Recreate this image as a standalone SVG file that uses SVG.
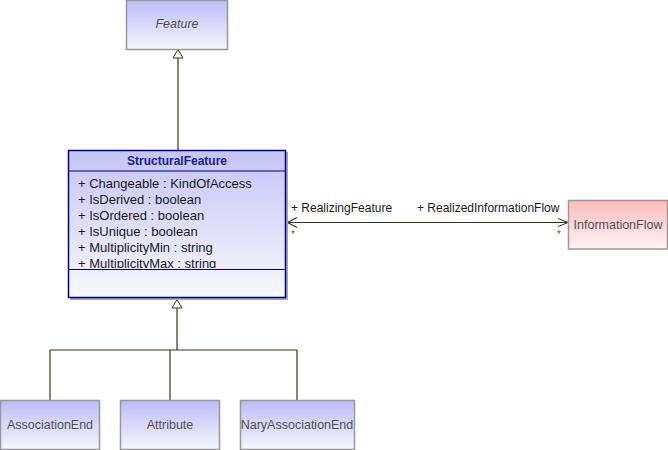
<svg xmlns="http://www.w3.org/2000/svg" width="668" height="450" viewBox="0 0 668 450">
<defs>
<linearGradient id="gBlue" x1="0" y1="0" x2="0" y2="1"><stop offset="0" stop-color="#bcbcf8"/><stop offset="1" stop-color="#f6f6ff"/></linearGradient>
<linearGradient id="gSF" x1="0" y1="0" x2="0" y2="1"><stop offset="0" stop-color="#c4c4f6"/><stop offset="1" stop-color="#f8f8ff"/></linearGradient>
<linearGradient id="gPink" x1="0" y1="0" x2="0" y2="1"><stop offset="0" stop-color="#ffbcbc"/><stop offset="1" stop-color="#fff2f2"/></linearGradient>
<marker id="open" viewBox="0 0 10 10" refX="10" refY="5" markerWidth="10" markerHeight="10" markerUnits="userSpaceOnUse" orient="auto"><path d="M0,1 L10,5 L0,9" fill="none" stroke="#3c3020" stroke-width="1"/></marker>
<clipPath id="attrClip"><rect x="69" y="172" width="216" height="96"/></clipPath>
</defs>
<style>
.box{stroke:#999;stroke-width:1.5}
.lbl{font-family:"Liberation Sans",Arial,sans-serif;font-size:12.5px;fill:#505050;text-anchor:middle}
.attr{font-family:"Liberation Sans",Arial,sans-serif;font-size:13px;fill:#1a1a1a}
.role{font-family:"Liberation Sans",Arial,sans-serif;font-size:12px;fill:#1a1a1a}
.mult{font-family:"Liberation Sans",Arial,sans-serif;font-size:10px;fill:#a05010}
.ln{stroke:#3c3020;stroke-width:1.2;fill:none}
.tri{stroke:#3c3020;stroke-width:1;fill:#fff}
</style>
<g id="connectors">
<path class="ln" d="M178,58 V150"/>
<path class="tri" d="M178,49.5 L173,58 L183,58 Z"/>
<path class="ln" d="M177,308 V350 M50,350 H297 M50,350 V400 M170,350 V400 M297,350 V400"/>
<path class="tri" d="M177,299.5 L172,308 L182,308 Z"/>
<path class="ln" d="M287,222.5 H568" marker-end="url(#open)"/>
<path class="ln" d="M297,217.5 L287.5,222.5 L297,227.5"/>
<text class="role" x="291" y="212">+ RealizingFeature</text>
<text class="role" x="417" y="212">+ RealizedInformationFlow</text>
<text class="mult" x="291" y="238">*</text>
<text class="mult" x="557" y="238">*</text>
</g>
<g id="Feature">
<rect class="box" x="126.5" y="0.5" width="101" height="49" fill="url(#gBlue)"/>
<text class="lbl" x="177" y="28" font-style="italic">Feature</text>
</g>
<g id="StructuralFeature">
<rect x="70" y="152" width="218" height="148" fill="#a8a8b8"/>
<rect x="68.5" y="150.5" width="217" height="147" fill="url(#gSF)" stroke="#000080" stroke-width="1.5"/>
<path d="M68.5,171 H285.5 M68.5,269.5 H285.5" stroke="#000080" stroke-width="1.2"/>
<text x="177" y="165" font-family="'Liberation Sans',Arial,sans-serif" font-size="12px" font-weight="bold" fill="#20208a" text-anchor="middle">StructuralFeature</text>
<g clip-path="url(#attrClip)">
<text class="attr" x="78" y="188">+ Changeable : KindOfAccess</text>
<text class="attr" x="78" y="204">+ IsDerived : boolean</text>
<text class="attr" x="78" y="220">+ IsOrdered : boolean</text>
<text class="attr" x="78" y="236">+ IsUnique : boolean</text>
<text class="attr" x="78" y="251.5">+ MultiplicityMin : string</text>
<text class="attr" x="78" y="267.5">+ MultiplicityMax : string</text>
</g>
</g>
<g id="InformationFlow">
<rect class="box" x="568.5" y="200.5" width="99" height="48.5" fill="url(#gPink)"/>
<text class="lbl" x="618" y="229">InformationFlow</text>
</g>
<g id="AssociationEnd">
<rect class="box" x="0.5" y="400.5" width="99" height="49" fill="url(#gBlue)"/>
<text class="lbl" x="50" y="429">AssociationEnd</text>
</g>
<g id="Attribute">
<rect class="box" x="120.5" y="400.5" width="99" height="49" fill="url(#gBlue)"/>
<text class="lbl" x="170" y="429">Attribute</text>
</g>
<g id="NaryAssociationEnd">
<rect class="box" x="240.5" y="400.5" width="114" height="49" fill="url(#gBlue)"/>
<text class="lbl" x="297" y="429">NaryAssociationEnd</text>
</g>
</svg>
